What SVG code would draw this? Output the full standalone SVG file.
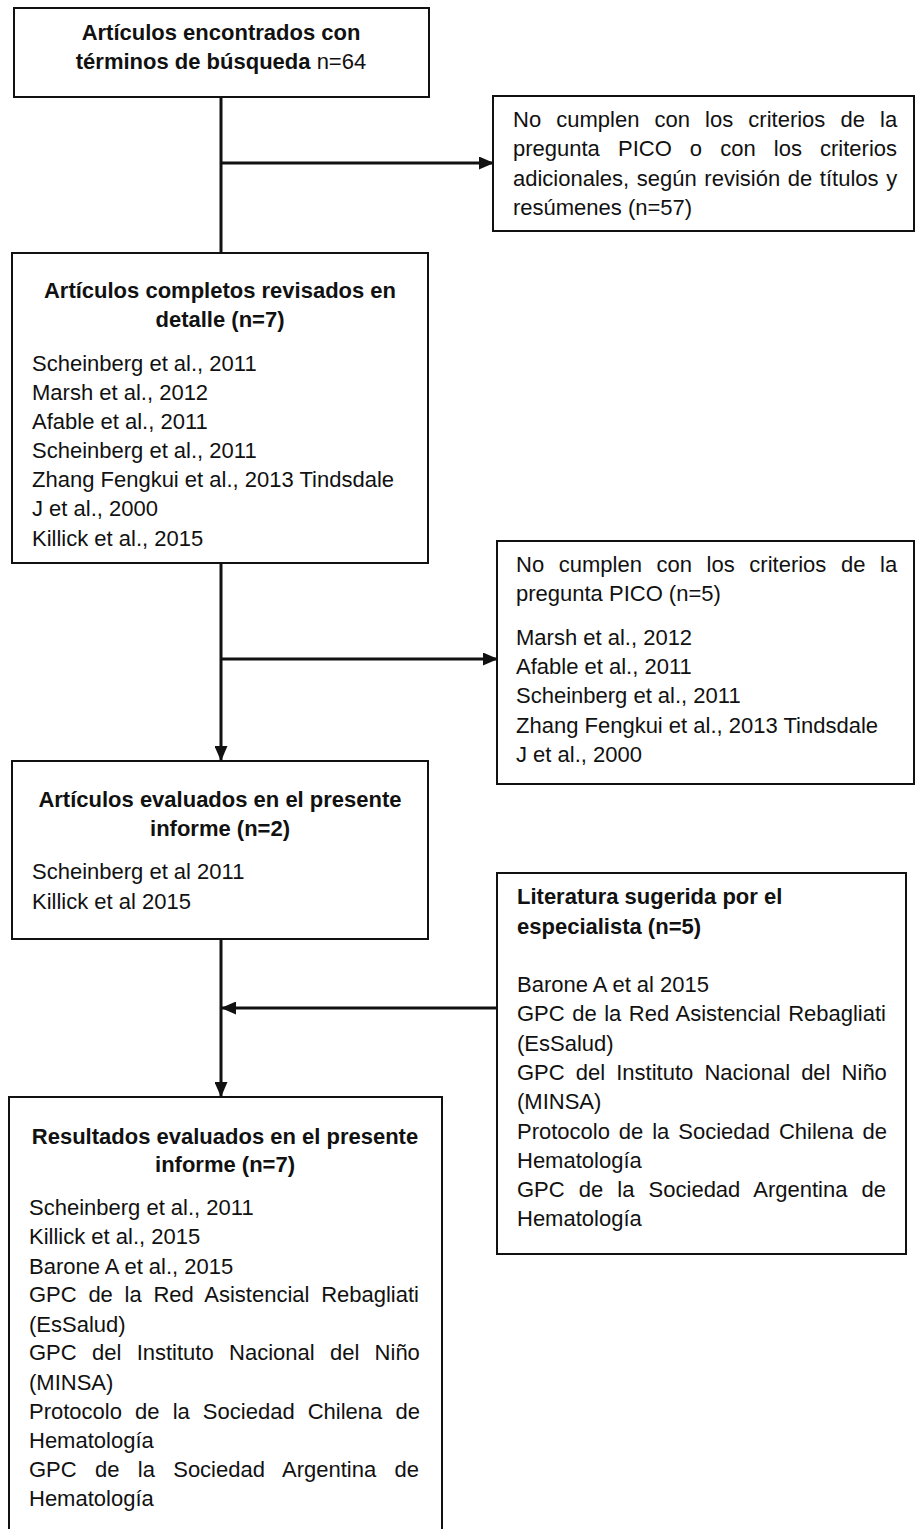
<svg xmlns="http://www.w3.org/2000/svg" width="916" height="1529" viewBox="0 0 916 1529">
<style>
text{font-family:"Liberation Sans",Arial,sans-serif;font-size:22px;fill:#111}
.b{font-weight:bold}
.c{text-anchor:middle}
.box{fill:#fff;stroke:#111;stroke-width:2}
.ln{stroke:#111;stroke-width:3;fill:none}
</style>
<defs>
<marker id="ah" markerUnits="userSpaceOnUse" markerWidth="15" markerHeight="13" refX="14" refY="6.5" orient="auto">
<path d="M0,0 L15,6.5 L0,13 z" fill="#111"/>
</marker>
</defs>
<rect width="916" height="1529" fill="#fff"/>
<g id="connectors">
<line class="ln" x1="221" y1="97" x2="221" y2="253"/>
<line class="ln" x1="221" y1="163" x2="493" y2="163" marker-end="url(#ah)"/>
<line class="ln" x1="221" y1="563" x2="221" y2="760" marker-end="url(#ah)"/>
<line class="ln" x1="221" y1="659" x2="497" y2="659" marker-end="url(#ah)"/>
<line class="ln" x1="221" y1="939" x2="221" y2="1096" marker-end="url(#ah)"/>
<line class="ln" x1="497" y1="1008" x2="222" y2="1008" marker-end="url(#ah)"/>
</g>
<g id="n1">
<rect class="box" x="14" y="8" width="415" height="89"/>
<text class="b c" x="221" y="40">Artículos encontrados con</text>
<text class="c" x="221" y="69"><tspan class="b">términos de búsqueda</tspan> n=64</text>
</g>
<g id="n2">
<rect class="box" x="493" y="96" width="421" height="135"/>
<text x="513" y="127" word-spacing="9">No cumplen con los criterios de la</text>
<text x="513" y="156" word-spacing="12">pregunta PICO o con los criterios</text>
<text x="513" y="186" word-spacing="1.5">adicionales, según revisión de títulos y</text>
<text x="513" y="215">resúmenes (n=57)</text>
</g>
<g id="n3">
<rect class="box" x="12" y="253" width="416" height="310"/>
<text class="b c" x="220" y="298">Artículos completos revisados en</text>
<text class="b c" x="220" y="327">detalle (n=7)</text>
<text x="32" y="371">Scheinberg et al., 2011</text>
<text x="32" y="400">Marsh et al., 2012</text>
<text x="32" y="429">Afable et al., 2011</text>
<text x="32" y="458">Scheinberg et al., 2011</text>
<text x="32" y="487">Zhang Fengkui et al., 2013 Tindsdale</text>
<text x="32" y="516">J et al., 2000</text>
<text x="32" y="546">Killick et al., 2015</text>
</g>
<g id="n4">
<rect class="box" x="497" y="541" width="417" height="243"/>
<text x="516" y="572" word-spacing="8.5">No cumplen con los criterios de la</text>
<text x="516" y="601">pregunta PICO (n=5)</text>
<text x="516" y="645">Marsh et al., 2012</text>
<text x="516" y="674">Afable et al., 2011</text>
<text x="516" y="703">Scheinberg et al., 2011</text>
<text x="516" y="733">Zhang Fengkui et al., 2013 Tindsdale</text>
<text x="516" y="762">J et al., 2000</text>
</g>
<g id="n5">
<rect class="box" x="12" y="761" width="416" height="178"/>
<text class="b c" x="220" y="807">Artículos evaluados en el presente</text>
<text class="b c" x="220" y="836">informe (n=2)</text>
<text x="32" y="879">Scheinberg et al 2011</text>
<text x="32" y="909">Killick et al 2015</text>
</g>
<g id="n6">
<rect class="box" x="497" y="873" width="409" height="381"/>
<text class="b" x="517" y="904">Literatura sugerida por el</text>
<text class="b" x="517" y="934">especialista (n=5)</text>
<text x="517" y="992">Barone A et al 2015</text>
<text x="517" y="1021" word-spacing="1.4">GPC de la Red Asistencial Rebagliati</text>
<text x="517" y="1051">(EsSalud)</text>
<text x="517" y="1080" word-spacing="5">GPC del Instituto Nacional del Niño</text>
<text x="517" y="1109">(MINSA)</text>
<text x="517" y="1139" word-spacing="2.8">Protocolo de la Sociedad Chilena de</text>
<text x="517" y="1168">Hematología</text>
<text x="517" y="1197" word-spacing="8">GPC de la Sociedad Argentina de</text>
<text x="517" y="1226">Hematología</text>
</g>
<g id="n7">
<rect class="box" x="9" y="1097" width="433" height="440"/>
<text class="b c" x="225" y="1144">Resultados evaluados en el presente</text>
<text class="b c" x="225" y="1172">informe (n=7)</text>
<text x="29" y="1215">Scheinberg et al., 2011</text>
<text x="29" y="1244">Killick et al., 2015</text>
<text x="29" y="1274">Barone A et al., 2015</text>
<text x="29" y="1302" word-spacing="5.6">GPC de la Red Asistencial Rebagliati</text>
<text x="29" y="1332">(EsSalud)</text>
<text x="29" y="1360" word-spacing="9.2">GPC del Instituto Nacional del Niño</text>
<text x="29" y="1390">(MINSA)</text>
<text x="29" y="1419" word-spacing="7">Protocolo de la Sociedad Chilena de</text>
<text x="29" y="1448">Hematología</text>
<text x="29" y="1477" word-spacing="12.2">GPC de la Sociedad Argentina de</text>
<text x="29" y="1506">Hematología</text>
</g>
</svg>
